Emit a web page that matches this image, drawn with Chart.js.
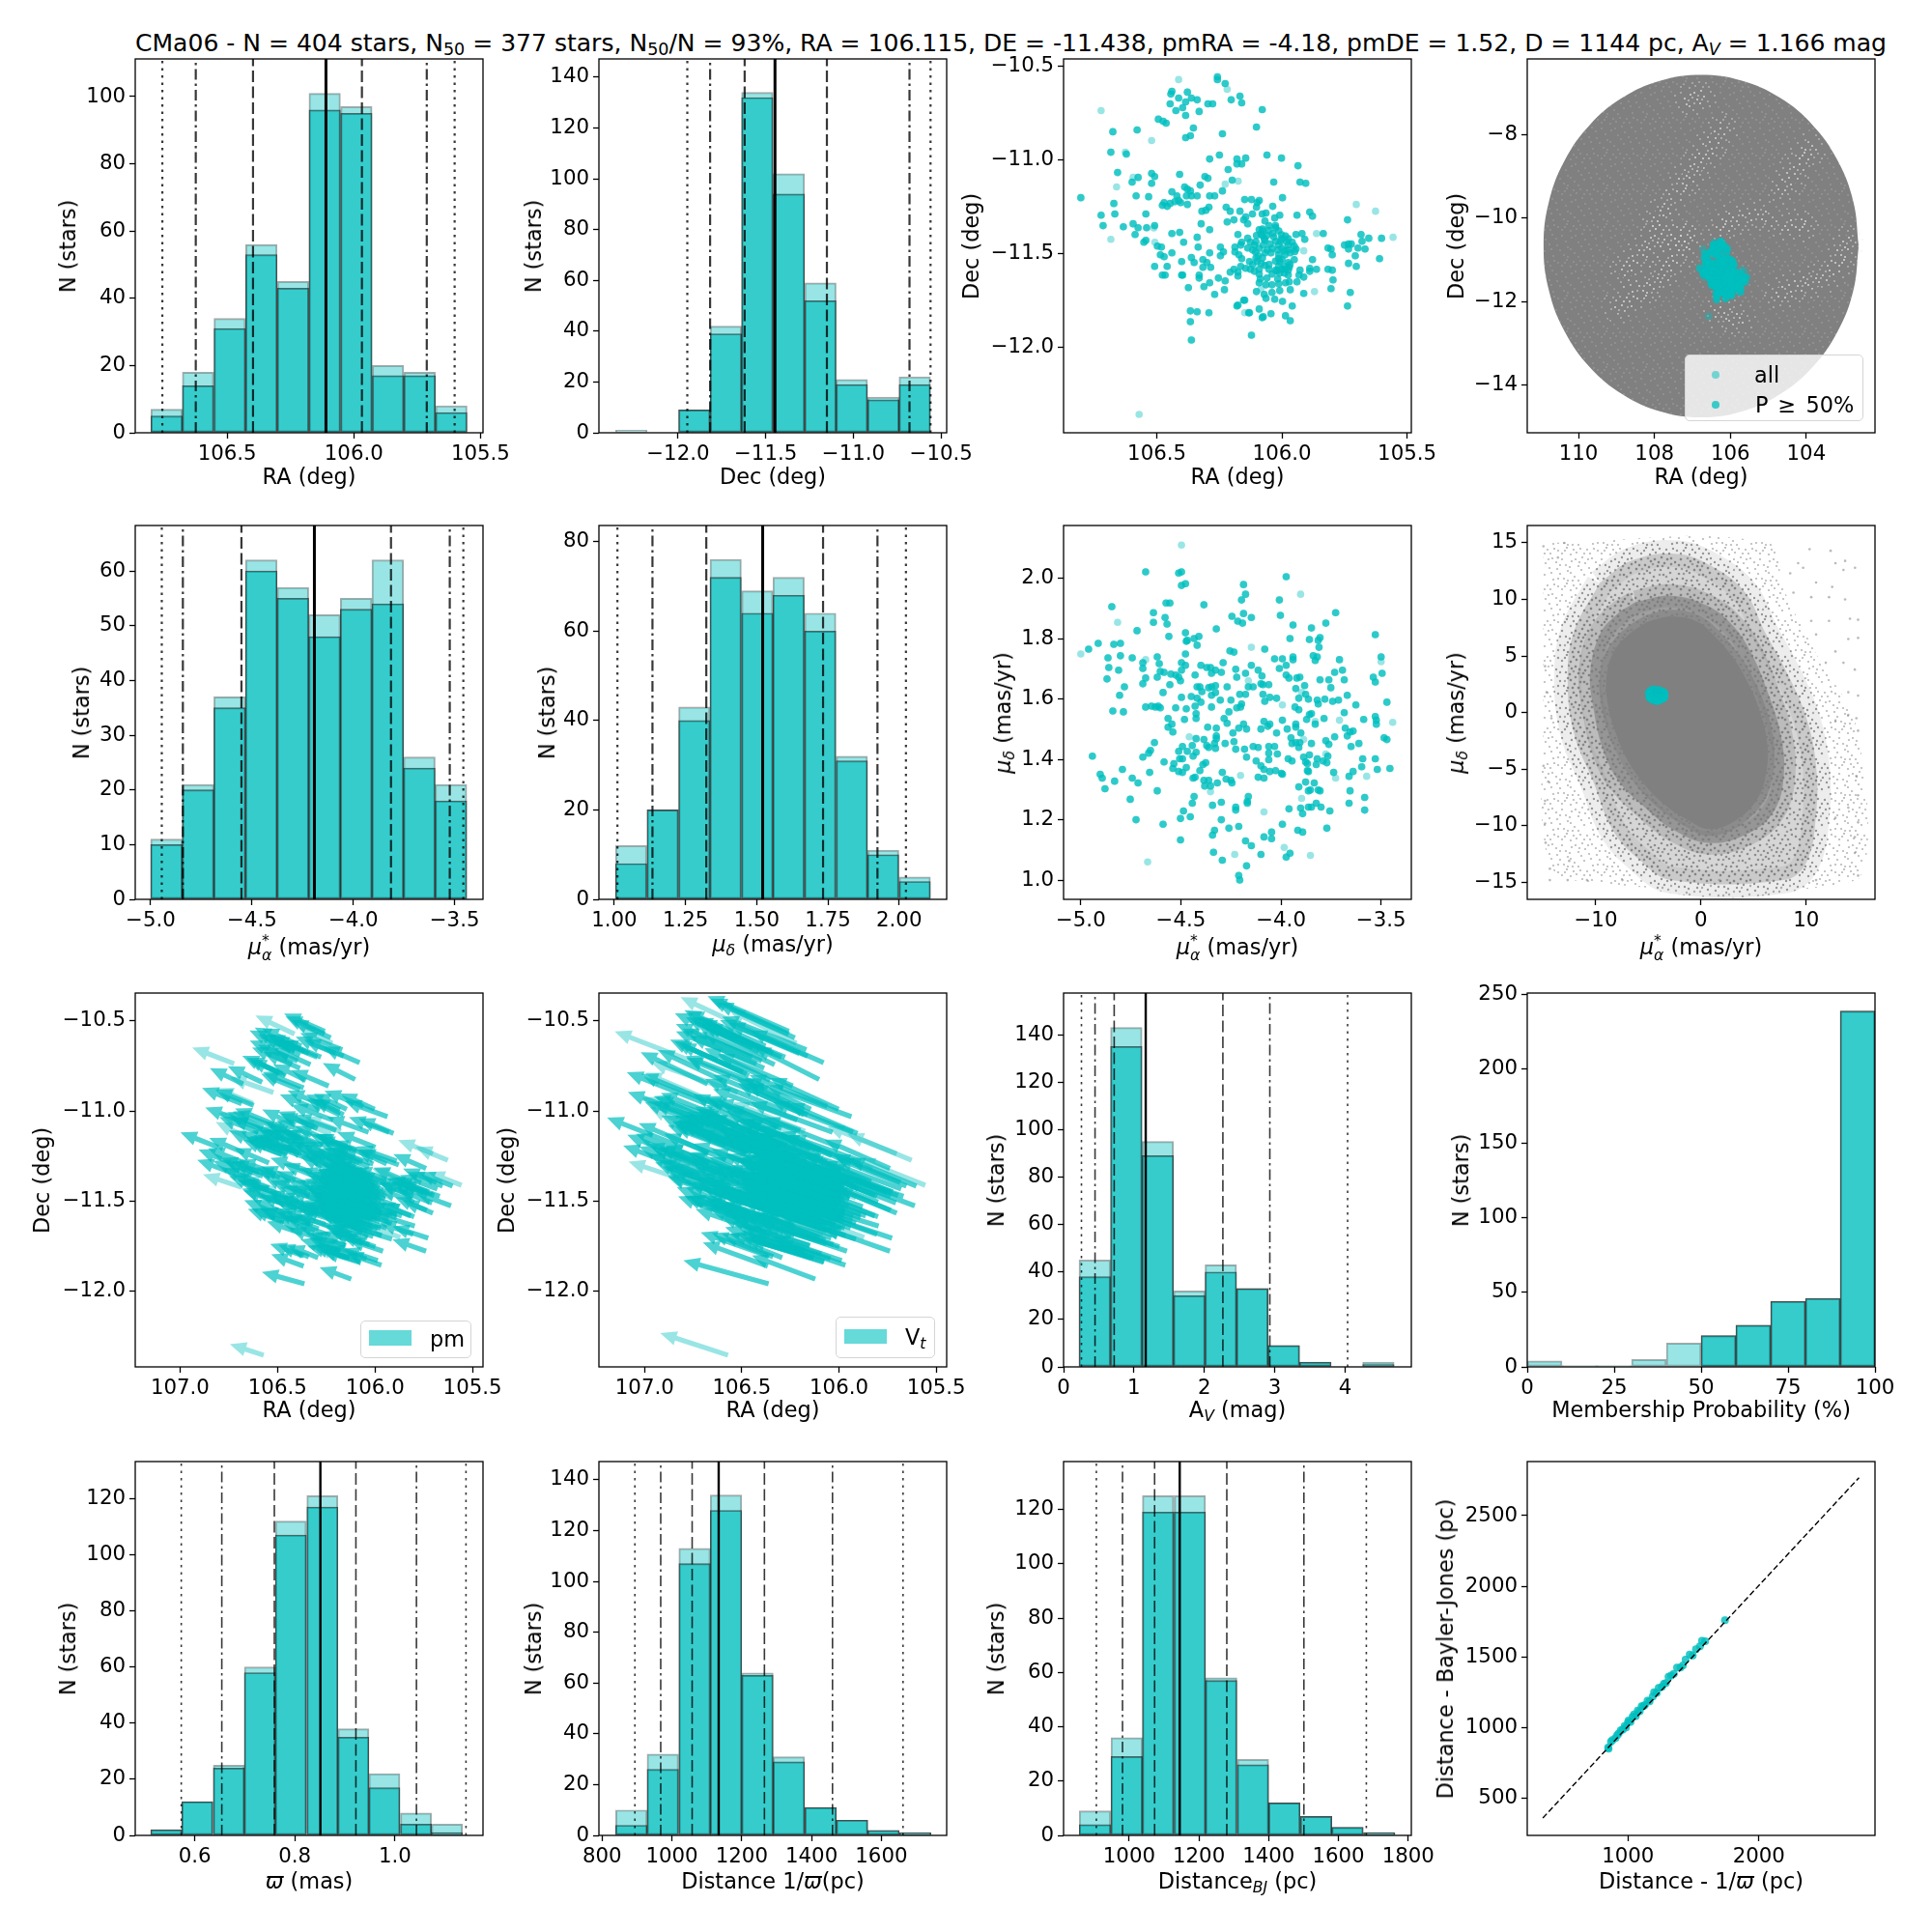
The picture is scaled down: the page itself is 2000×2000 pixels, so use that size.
<!DOCTYPE html>
<html>
<head>
<meta charset="utf-8">
<script src="https://cdn.jsdelivr.net/npm/chart.js@4"></script>
<style>
  body { margin: 0; background: #fff; font-family: 'DejaVu Sans', sans-serif; color: #000; }
  #page { position: relative; width: 2000px; height: 2000px; overflow: hidden; }
  canvas { position: absolute; }
  .lbl { position: absolute; font-size: 22.4px; white-space: nowrap; transform: translate(-50%, -50%); }
  .lbl.rot { transform: translate(-50%, -50%) rotate(-90deg); }
  #title { position: absolute; left: 140px; top: 44px; font-size: 25.05px; white-space: nowrap; transform: translateY(-50%); }
  sub { font-size: 70%; line-height: 0; vertical-align: -0.25em; }
  .ss { display: inline-flex; flex-direction: column; font-size: 70%; line-height: 15px; vertical-align: 9px; }
  .legend { position: absolute; background: rgba(255,255,255,.8); border: 1.3px solid #d5d5d5; border-radius: 5px; box-sizing: border-box; }
  .legend div, .legend span { position: absolute; }
  .legend span { font-size: 22.4px; white-space: nowrap; transform: translateY(-50%); }
</style>
</head>
<body>
<div id="page">
  <div id="title">CMa06 - N = 404 stars, N<sub>50</sub> = 377 stars, N<sub>50</sub>/N = 93%, RA = 106.115, DE = -11.438, pmRA = -4.18, pmDE = 1.52, D = 1144 pc, A<sub><i>V</i></sub> = 1.166 mag</div>
</div>
<script>
/*
    DATA
*/
const raCenters = [106.739, 106.615, 106.490, 106.365, 106.240, 106.115, 105.990, 105.865, 105.740, 105.615];
const raAll = [7, 18, 34, 56, 45, 101, 97, 20, 18, 8];
const raMem = [5, 14, 31, 53, 43, 96, 95, 17, 17, 6];
const raLines = [106.756, 105.602, 106.624, 105.712, 106.398, 105.968, 106.110];

const decCenters = [-12.266, -12.087, -11.907, -11.727, -11.548, -11.368, -11.188, -11.009, -10.829, -10.650];
const decAll = [1, 0, 9, 42, 134, 102, 59, 21, 14, 22];
const decMem = [0, 0, 9, 39, 132, 94, 52, 19, 13, 19];
const decLines = [-11.947, -10.56, -11.817, -10.68, -11.62, -11.151, -11.447];

const pmraCenters = [-4.922, -4.766, -4.610, -4.454, -4.298, -4.142, -3.986, -3.830, -3.674, -3.518];
const pmraAll = [11, 21, 37, 62, 57, 52, 55, 62, 26, 21];
const pmraMem = [10, 20, 35, 60, 55, 48, 53, 54, 24, 18];
const pmraLines = [-4.945, -3.457, -4.841, -3.524, -4.552, -3.814, -4.192];

const pmdeCenters = [1.059, 1.170, 1.281, 1.391, 1.502, 1.612, 1.723, 1.834, 1.944, 2.055];
const pmdeAll = [12, 20, 43, 76, 69, 72, 64, 32, 11, 5];
const pmdeMem = [8, 20, 40, 72, 64, 68, 60, 31, 10, 4];
const pmdeLines = [1.011, 2.024, 1.134, 1.924, 1.323, 1.733, 1.521];

const avCenters = [0.443, 0.891, 1.338, 1.786, 2.234, 2.681, 3.129, 3.577, 4.025, 4.472];
const avAll = [45, 143, 95, 32, 43, 33, 9, 2, 0, 2];
const avMem = [38, 135, 89, 30, 40, 33, 9, 2, 0, 1];
const avLines = [0.254, 4.035, 0.447, 2.93, 0.719, 2.263, 1.167];

const probCenters = [5, 15, 25, 35, 45, 55, 65, 75, 85, 95];
const probAll = [4, 1, 1, 5, 16, 21, 28, 44, 46, 239];
const probMem = [0, 0, 0, 0, 0, 21, 28, 44, 46, 239];

const plxCenters = [0.543, 0.605, 0.668, 0.730, 0.792, 0.855, 0.917, 0.979, 1.042, 1.104];
const plxAll = [2, 12, 25, 60, 112, 121, 38, 22, 8, 4];
const plxMem = [2, 12, 24, 58, 107, 117, 35, 17, 4, 1];
const plxLines = [0.573, 1.142, 0.654, 1.043, 0.759, 0.922, 0.851];

const distCenters = [884, 974, 1065, 1155, 1245, 1335, 1426, 1516, 1606, 1697];
const distAll = [10, 32, 113, 134, 64, 31, 11, 6, 2, 1];
const distMem = [4, 26, 107, 128, 63, 29, 11, 6, 2, 1];
const distLines = [894, 1662, 968, 1460, 1058, 1265, 1134];

const bjCenters = [902, 993, 1083, 1174, 1264, 1355, 1445, 1536, 1626, 1717];
const bjAll = [9, 36, 125, 125, 58, 28, 12, 7, 3, 1];
const bjMem = [4, 29, 119, 119, 57, 26, 12, 7, 3, 1];
const bjLines = [906, 1680, 981, 1501, 1073, 1280, 1145];

// stars below 50% membership
const paleRA = [106.413, 106.219, 106.723, 106.521, 106.626, 106.595, 106.661, 106.175, 106.227, 105.703, 105.626, 105.556, 105.862, 106.684, 106.508, 105.913, 106.512, 105.870, 106.149, 106.083, 106.571];
const paleDE = [-10.572, -10.624, -10.737, -10.897, -10.959, -11.093, -11.144, -11.113, -11.129, -11.237, -11.273, -11.412, -11.392, -11.423, -11.438, -11.484, -11.362, -11.701, -11.814, -11.687, -12.355];
const palePmRA = [-4.497, -3.902, -4.816, -5.000, -4.148, -4.676, -3.500, -4.163, -3.897, -3.993, -3.708, -3.829, -3.442, -4.458, -3.887, -3.776, -4.202, -3.727, -3.572, -4.352, -3.897, -4.085, -3.984, -4.231, -3.853, -4.666];
const palePmDE = [2.111, 1.948, 1.855, 1.750, 1.772, 1.731, 1.724, 1.661, 1.622, 1.581, 1.530, 1.526, 1.523, 1.475, 1.466, 1.418, 1.347, 1.338, 1.344, 1.293, 1.271, 1.226, 1.108, 1.085, 1.082, 1.060];

// stars with P >= 50%
const memRA = [106.258,106.258,106.227,106.440,106.444,106.378,106.413,106.362,106.339,106.385,106.168,106.203,106.161,106.447,106.296,106.277,106.397,106.424,106.331,106.385,106.079,106.494,106.475,106.463,106.102,106.354,106.579,106.676,106.238,106.366,106.385,106.684,106.622,106.250,106.289,106.060,106.002,106.180,106.145,106.180,106.161,105.936,106.215,106.657,106.521,106.409,106.509,106.575,106.308,106.296,106.599,106.521,106.199,106.033,105.928,105.905,106.327,106.389,106.378,106.366,106.440,106.238,106.583,106.533,106.420,106.382,106.362,106.339,106.289,106.269,105.998,106.804,106.149,106.122,106.091,106.413,106.471,106.672,106.447,106.428,106.405,106.378,106.478,106.459,106.099,106.102,106.037,106.223,106.292,106.304,106.320,106.207,106.168,106.668,106.723,106.544,106.118,106.079,106.064,105.940,106.009,105.889,105.878,106.145,106.029,106.192,105.738,106.219,106.153,106.137,106.068,106.323,106.715,106.634,106.595,106.575,106.541,106.509,106.052,106.025,106.289,106.091,106.075,106.013,106.440,106.409,106.587,106.176,106.102,106.079,106.060,106.037,106.002,105.986,105.944,105.920,105.835,106.339,106.137,105.909,105.653,105.602,105.684,105.680,106.544,106.552,106.393,106.161,106.126,106.068,106.025,106.006,105.959,105.750,105.734,105.723,105.696,105.668,106.498,106.482,106.335,106.246,106.188,106.165,106.137,106.110,106.075,106.048,106.013,105.975,105.951,105.816,105.804,105.734,106.440,106.486,106.471,106.289,106.246,106.234,106.188,106.106,106.068,106.044,106.017,105.990,105.944,105.967,105.799,105.707,105.610,106.362,106.172,106.161,106.095,106.013,105.951,105.878,106.401,106.351,106.316,106.300,106.130,106.099,106.083,106.009,105.975,105.734,106.509,106.459,106.316,106.285,106.165,106.068,106.013,105.990,105.971,105.703,106.145,106.126,106.052,106.025,106.002,105.975,105.928,105.889,105.862,105.816,105.799,106.207,106.192,106.176,106.110,106.009,105.990,105.889,106.331,106.331,106.478,106.467,106.401,106.397,106.176,106.091,105.932,105.913,106.254,106.087,106.060,106.017,105.975,106.227,106.289,106.091,105.986,105.971,105.940,105.796,106.374,106.312,106.230,106.064,106.040,106.013,106.102,106.040,106.009,105.967,105.804,106.269,106.071,106.064,106.029,105.913,105.727,106.176,106.180,106.153,106.149,105.998,105.959,105.738,106.366,106.339,106.292,106.133,106.130,106.091,106.044,106.075,106.079,105.986,105.967,106.366,106.122,106.362,106.084,106.071,106.052,106.033,106.000,105.981,105.975,105.988,106.000,106.026,106.052,106.078,106.104,106.117,106.091,106.039,106.020,105.988,105.968,105.949,106.039,106.059,106.091,106.117,106.104,106.078,106.026,105.975,106.000,106.013];
const memDE = [-10.557,-10.572,-10.593,-10.634,-10.649,-10.639,-10.670,-10.670,-10.680,-10.691,-10.660,-10.680,-10.696,-10.701,-10.701,-10.701,-10.722,-10.737,-10.742,-10.763,-10.732,-10.783,-10.794,-10.804,-10.825,-10.830,-10.840,-10.850,-10.861,-10.871,-10.881,-10.959,-10.969,-10.974,-10.995,-10.974,-10.990,-10.995,-10.990,-11.021,-11.021,-11.031,-11.051,-11.067,-11.072,-11.077,-11.088,-11.093,-11.088,-11.098,-11.118,-11.124,-11.108,-11.118,-11.118,-11.124,-11.134,-11.144,-11.155,-11.165,-11.170,-11.165,-11.191,-11.196,-11.191,-11.191,-11.191,-11.191,-11.191,-11.191,-11.201,-11.201,-11.211,-11.211,-11.216,-11.216,-11.227,-11.232,-11.232,-11.222,-11.227,-11.237,-11.242,-11.247,-11.227,-11.252,-11.247,-11.252,-11.252,-11.268,-11.273,-11.273,-11.273,-11.288,-11.294,-11.288,-11.288,-11.288,-11.283,-11.294,-11.294,-11.278,-11.299,-11.304,-11.309,-11.319,-11.319,-11.330,-11.319,-11.340,-11.325,-11.340,-11.350,-11.356,-11.340,-11.361,-11.361,-11.350,-11.350,-11.361,-11.371,-11.371,-11.378,-11.378,-11.392,-11.386,-11.397,-11.397,-11.402,-11.402,-11.402,-11.392,-11.399,-11.405,-11.397,-11.392,-11.392,-11.412,-11.417,-11.423,-11.417,-11.417,-11.397,-11.433,-11.428,-11.438,-11.438,-11.438,-11.438,-11.428,-11.433,-11.433,-11.438,-11.453,-11.448,-11.448,-11.469,-11.474,-11.459,-11.464,-11.464,-11.464,-11.464,-11.453,-11.469,-11.453,-11.453,-11.448,-11.453,-11.453,-11.459,-11.469,-11.474,-11.474,-11.495,-11.505,-11.515,-11.495,-11.510,-11.490,-11.490,-11.490,-11.495,-11.495,-11.479,-11.484,-11.474,-11.495,-11.505,-11.510,-11.526,-11.520,-11.505,-11.526,-11.510,-11.526,-11.531,-11.531,-11.541,-11.546,-11.531,-11.546,-11.541,-11.541,-11.551,-11.541,-11.546,-11.551,-11.567,-11.567,-11.572,-11.572,-11.567,-11.562,-11.567,-11.567,-11.572,-11.567,-11.577,-11.582,-11.582,-11.587,-11.582,-11.587,-11.587,-11.577,-11.582,-11.582,-11.587,-11.598,-11.582,-11.598,-11.593,-11.603,-11.603,-11.593,-11.613,-11.629,-11.613,-11.613,-11.613,-11.613,-11.618,-11.608,-11.613,-11.624,-11.629,-11.634,-11.629,-11.634,-11.613,-11.644,-11.654,-11.654,-11.654,-11.649,-11.649,-11.639,-11.680,-11.675,-11.691,-11.665,-11.665,-11.660,-11.701,-11.706,-11.696,-11.691,-11.685,-11.716,-11.716,-11.737,-11.742,-11.711,-11.706,-11.773,-11.778,-11.747,-11.747,-11.753,-11.778,-11.778,-11.804,-11.809,-11.814,-11.814,-11.814,-11.794,-11.819,-11.835,-11.840,-11.830,-11.856,-11.861,-11.933,-11.959,-11.393,-11.419,-11.376,-11.410,-11.419,-11.436,-11.479,-11.505,-11.531,-11.539,-11.557,-11.522,-11.522,-11.557,-11.582,-11.608,-11.591,-11.582,-11.557,-11.488,-11.471,-11.479,-11.471,-11.479,-11.436,-11.368,-11.350,-11.419,-11.471,-11.505];
const memPmRA = [-4.676,-4.511,-4.497,-3.974,-4.477,-4.497,-4.187,-4.177,-4.197,-4.008,-4.845,-4.574,-4.555,-4.385,-4.637,-4.579,-4.569,-4.637,-4.187,-4.245,-4.216,-4.192,-4.148,-4.003,-3.727,-3.776,-3.940,-3.848,-4.323,-4.719,-4.477,-4.560,-4.410,-4.434,-4.468,-4.473,-3.955,-3.858,-3.814,-3.805,-3.529,-4.913,-4.835,-4.802,-4.419,-3.810,-4.961,-4.081,-4.255,-4.235,-4.477,-4.864,-4.802,-4.743,-4.618,-4.032,-3.993,-3.940,-3.940,-3.839,-3.819,-3.829,-3.708,-3.500,-4.690,-4.608,-4.497,-4.477,-4.289,-4.400,-4.371,-4.352,-4.148,-3.974,-4.860,-4.690,-4.226,-4.008,-4.114,-4.811,-4.603,-4.584,-4.497,-4.327,-4.347,-4.298,-4.177,-3.732,-3.693,-3.495,-4.550,-4.526,-4.429,-4.221,-4.095,-3.974,-3.960,-3.921,-3.906,-3.539,-4.869,-4.676,-4.618,-4.511,-4.502,-3.805,-3.761,-3.684,-3.529,-4.690,-4.555,-4.782,-4.419,-4.405,-4.361,-4.347,-4.327,-4.269,-4.163,-4.139,-4.100,-4.090,-4.061,-3.882,-3.751,-3.926,-4.395,-4.589,-4.327,-4.806,-4.448,-4.497,-4.347,-4.206,-4.177,-4.090,-3.877,-3.669,-4.419,-4.056,-4.022,-3.911,-3.863,-4.303,-4.250,-4.400,-4.081,-3.819,-3.814,-3.781,-3.742,-3.713,-3.471,-4.197,-3.626,-4.676,-4.647,-4.627,-4.613,-4.603,-4.526,-4.473,-4.429,-4.347,-4.221,-4.202,-3.930,-3.911,-4.840,-4.787,-4.260,-3.684,-3.848,-3.858,-4.424,-4.424,-4.564,-4.482,-4.284,-3.872,-3.785,-3.587,-3.529,-3.524,-3.524,-4.545,-4.269,-4.085,-4.056,-3.993,-4.066,-4.187,-3.926,-3.926,-3.829,-4.564,-4.366,-4.323,-4.211,-4.172,-4.100,-3.969,-3.679,-4.540,-4.240,-4.022,-3.901,-3.655,-3.640,-3.669,-4.323,-4.323,-4.424,-4.385,-3.950,-3.732,-3.485,-3.471,-3.776,-4.632,-4.279,-4.235,-4.332,-3.945,-3.926,-3.906,-3.848,-3.761,-3.611,-4.492,-4.443,-4.371,-4.361,-4.327,-4.139,-4.114,-4.061,-4.032,-3.911,-3.650,-4.226,-4.182,-4.511,-4.468,-4.424,-4.061,-4.652,-4.661,-4.690,-4.439,-4.172,-4.018,-3.887,-3.858,-3.766,-4.942,-4.506,-4.492,-4.061,-3.964,-3.945,-3.819,-3.790,-3.592,-3.529,-4.584,-4.124,-3.877,-3.868,-3.824,-3.771,-4.535,-4.376,-4.390,-4.100,-3.597,-4.540,-4.473,-4.085,-4.056,-4.027,-3.868,-3.863,-3.519,-3.456,-4.792,-4.405,-4.511,-4.492,-4.656,-4.293,-3.998,-3.993,-3.737,-3.640,-4.903,-4.893,-4.743,-4.439,-4.429,-4.114,-4.085,-3.660,-4.831,-4.714,-4.385,-4.361,-4.274,-4.250,-4.318,-4.245,-3.877,-3.834,-4.381,-4.352,-3.911,-4.879,-4.618,-3.863,-3.853,-3.814,-3.805,-3.655,-4.434,-4.163,-3.582,-4.753,-4.443,-4.298,-4.168,-4.168,-3.824,-3.660,-4.342,-4.226,-4.226,-3.960,-3.902,-3.863,-3.848,-3.800,-4.487,-3.756,-3.582,-3.892,-4.453,-4.502,-4.724,-4.298,-4.589,-4.211,-4.260,-3.993,-3.771,-3.916,-3.892,-4.332,-4.342,-4.047,-4.085,-4.047,-4.502,-4.177,-4.148,-4.337,-4.100,-3.955,-3.974,-4.293,-4.172,-4.211,-4.206];
const memPmDE = [2.022,2.018,2.022,2.006,1.983,1.977,1.980,1.948,1.929,1.929,1.907,1.919,1.919,1.913,1.887,1.871,1.849,1.855,1.884,1.875,1.859,1.852,1.871,1.878,1.887,1.852,1.846,1.836,1.833,1.827,1.820,1.808,1.808,1.801,1.795,1.792,1.801,1.798,1.795,1.804,1.814,1.785,1.782,1.785,1.779,1.772,1.766,1.766,1.760,1.756,1.750,1.737,1.744,1.737,1.740,1.734,1.734,1.740,1.731,1.744,1.740,1.728,1.731,1.740,1.721,1.718,1.721,1.712,1.721,1.712,1.705,1.705,1.712,1.712,1.705,1.702,1.699,1.702,1.696,1.696,1.692,1.689,1.696,1.696,1.686,1.689,1.686,1.689,1.696,1.686,1.683,1.680,1.680,1.673,1.677,1.680,1.670,1.670,1.673,1.673,1.667,1.670,1.673,1.673,1.661,1.664,1.664,1.664,1.657,1.651,1.648,1.641,1.641,1.641,1.638,1.641,1.645,1.641,1.641,1.641,1.651,1.648,1.648,1.645,1.638,1.635,1.625,1.622,1.622,1.613,1.609,1.606,1.613,1.616,1.616,1.616,1.616,1.613,1.603,1.606,1.603,1.603,1.600,1.597,1.597,1.590,1.593,1.597,1.584,1.600,1.593,1.597,1.590,1.584,1.581,1.574,1.577,1.574,1.577,1.571,1.571,1.568,1.577,1.574,1.571,1.574,1.574,1.565,1.561,1.558,1.558,1.555,1.552,1.549,1.552,1.536,1.536,1.533,1.536,1.533,1.536,1.533,1.542,1.530,1.517,1.517,1.520,1.526,1.517,1.530,1.510,1.517,1.517,1.507,1.517,1.507,1.507,1.504,1.504,1.501,1.501,1.501,1.504,1.491,1.488,1.488,1.488,1.491,1.494,1.478,1.478,1.469,1.469,1.466,1.472,1.475,1.472,1.466,1.462,1.456,1.453,1.459,1.453,1.453,1.456,1.456,1.453,1.450,1.453,1.443,1.446,1.446,1.440,1.437,1.443,1.440,1.443,1.443,1.440,1.443,1.434,1.434,1.427,1.427,1.424,1.421,1.430,1.421,1.408,1.411,1.408,1.418,1.408,1.415,1.411,1.411,1.402,1.402,1.399,1.402,1.395,1.402,1.395,1.402,1.402,1.392,1.395,1.392,1.386,1.383,1.389,1.386,1.389,1.383,1.379,1.376,1.370,1.373,1.367,1.360,1.363,1.363,1.360,1.367,1.370,1.367,1.363,1.360,1.357,1.357,1.357,1.354,1.351,1.357,1.360,1.351,1.338,1.338,1.338,1.341,1.341,1.338,1.344,1.328,1.322,1.331,1.331,1.335,1.331,1.322,1.322,1.325,1.322,1.312,1.312,1.309,1.303,1.296,1.296,1.299,1.299,1.296,1.296,1.277,1.277,1.274,1.268,1.255,1.258,1.261,1.255,1.255,1.255,1.248,1.242,1.232,1.236,1.239,1.242,1.242,1.242,1.229,1.229,1.232,1.220,1.210,1.204,1.200,1.200,1.185,1.178,1.172,1.185,1.172,1.165,1.159,1.165,1.149,1.159,1.143,1.137,1.133,1.130,1.114,1.092,1.085,1.089,1.076,1.066,1.047,1.015,1.000];

// distance against distance
const dist1 = [849, 852, 870, 882, 905, 918, 929, 945, 960, 975, 985, 1000, 1005, 1020, 1035, 1047, 1060, 1075, 1090, 1105, 1118, 1130, 1150, 1165, 1189, 1200, 1220, 1235, 1259, 1275, 1290, 1310, 1330, 1350, 1375, 1401, 1420, 1440, 1472, 1495, 1520, 1550, 1566, 1590, 1741];
const distBJ = [859, 850, 900, 911, 925, 945, 957, 980, 985, 1010, 1000, 1036, 1050, 1040, 1075, 1093, 1080, 1120, 1115, 1150, 1150, 1160, 1190, 1185, 1219, 1250, 1245, 1280, 1288, 1310, 1315, 1360, 1368, 1380, 1425, 1425, 1440, 1480, 1516, 1510, 1555, 1575, 1614, 1610, 1760];
const oneToOneX = [350, 2765];
const oneToOneY = [359, 2769];

const fieldDiskRA = [102.62, 102.76, 103.18, 103.84, 104.70, 105.70, 106.77, 107.84, 108.84, 109.70, 110.36, 110.78, 110.92, 110.78, 110.36, 109.70, 108.84, 107.84, 106.77, 105.70, 104.70, 103.84, 103.18, 102.76, 102.62];
const fieldDiskDE = [-10.67, -9.61, -8.61, -7.76, -7.11, -6.70, -6.56, -6.70, -7.11, -7.76, -8.61, -9.61, -10.67, -11.73, -12.73, -13.58, -14.23, -14.64, -14.78, -14.64, -14.23, -13.58, -12.73, -11.73, -10.67];
const streaks = [
  [[107.31, 106.97, 106.63, 106.20], [-9.22, -8.87, -8.40, -7.86]],
  [[108.92, 108.41, 107.82, 107.39, 107.14], [-12.12, -11.81, -11.43, -10.88, -10.50]],
  [[108.75, 108.41, 107.90, 107.31], [-11.27, -10.88, -10.57, -10.46]],
  [[107.99, 107.65], [-10.11, -9.72]],
  [[106.20, 105.95, 105.18], [-10.26, -10.03, -9.95]],
  [[104.59, 104.25, 103.91], [-9.26, -8.79, -8.33]],
  [[104.50, 104.08], [-10.19, -10.19]],
  [[104.67, 104.08, 103.40, 102.89], [-11.81, -11.58, -11.35, -10.57]],
  [[106.29, 105.78], [-12.28, -12.43]],
  [[107.05, 106.80], [-7.16, -7.09]]
];
const fieldOuterX = [-14.98, 6.34, 7.87, 10.94, 14.93, 14.93, -12.53, -14.83, -14.98, -14.98];
const fieldOuterY = [15.01, 15.01, 10.9, 5.22, -1.87, -14.79, -14.79, -11.81, 0, 15.01];
const fieldMidX = [-9.62, -6.55, -2.25, 1.12, 4.19, 6.03, 8.18, 10.02, 10.94, 10.94, 10.02, 7.87, -2.87, -5.93, -8.39, -10.23, -12.07, -12.68, -12.07, -9.62];
const fieldMidY = [11.46, 13.45, 14.02, 12.88, 10.61, 7.21, 3.52, -0.46, -4.71, -8.97, -13.23, -14.79, -14.79, -12.94, -10.39, -6.13, -1.87, 2.95, 7.21, 11.46];
const fieldInnerX = [-6.24, -2.87, 0.51, 2.96, 4.80, 6.34, 7.56, 7.87, 6.95, 4.50, 0.82, -2.56, -5.32, -7.77, -9.31, -10.23, -10.54, -9.62, -8.08, -6.24];
const fieldInnerY = [9.76, 10.33, 9.48, 7.77, 5.22, 1.81, -1.87, -5.56, -8.69, -10.67, -11.52, -10.39, -8.40, -6.13, -3.29, 0.40, 3.52, 6.92, 8.62, 9.76];
const fieldCoreX = [-5.01, -2.87, -0.41, 1.43, 3.2, 4.6, 5.6, 6.3, 6.2, 5.4, 3.4, 0.82, -1.33, -3.48, -5.32, -6.85, -8.08, -8.85, -9.00, -8.39, -6.85, -5.01];
const fieldCoreY = [8.06, 8.48, 8.06, 6.64, 4.65, 2.38, 0.11, -2.73, -5.28, -7.55, -9.45, -10.3, -9.45, -8.12, -6.42, -4.43, -1.87, 0.68, 2.95, 5.22, 6.92, 8.06];
const fieldSparseX = [10.32, 12.32, 14.64, 13.54, 12.78, 13.70, 9.71, 9.23, 8.48, 10.94, 12.47, 8.79, 10.48, 12.17, 13.70, 14.93, 14.16, 12.17, 10.48, 10.94, 14.0, 14.93, 12.78, 13.54, 11.86, 14.62, 14.0, 14.93, 14.77, 14.93, 14.0, 12.78, 14.77, 14.93, 14.0, 14.93, 14.62, 14.62, 14.93, 12.78, -12.68, -14.37, -14.37, -14.77, -12.53, -14.83, -14.83, -14.98, -14.68, -14.83, -14.98, -12.99, -13.6, -10.84, -7.47, 1.73, 6.34, 10.94, -14.22, -14.52];
const fieldSparseY = [14.44, 14.3, 12.8, 12.6, 13.2, 13.4, 12.8, 13.2, 12.3, 11.5, 11.1, 10.6, 10.2, 10.2, 10.0, 8.2, 8.3, 8.1, 8.1, 6.9, 6.5, 6.6, 5.4, 4.4, 4.4, 3.8, 1.8, 1.5, -0.5, -1.6, -0.2, -0.7, -5.6, -7.3, -8.4, -9.7, -11.0, -12.4, -14.4, -9.3, -14.8, -14.8, -13.8, -11.5, -13.1, -9.8, -7.8, -4.7, 1.8, 4.1, 14.7, 15.0, 13.7, -14.8, -14.8, -14.8, -14.8, -14.8, -0.5, -6.1];

/*
    LAYOUT Y ESTILOS
*/
const page = document.getElementById('page');
const TICK_FONT = { family: "'DejaVu Sans'", size: 21.3 };
const COL_X = [140, 620, 1101, 1581];
const ROW_Y = [61, 544, 1028, 1513];
const PLOT_W = 360, PLOT_H = 387;
const M_LEFT = 135, M_RIGHT = 35, M_TOP = 15, M_BOTTOM = 45;
const TEAL = (a) => `rgba(0,191,191,${a})`;
const GRAY = (a) => `rgba(128,128,128,${a})`;
const LIGHT = (a) => `rgba(225,225,225,${a})`;

const fmt = (v, dec) => v.toFixed(dec).replace('-', '\u2212');
const pts = (xs, ys) => xs.map((x, i) => ({ x, y: ys[i] }));
const seq = (from, to, step) => {
  const out = [];
  for (let v = from; step > 0 ? v <= to + 1e-9 : v >= to - 1e-9; v += step) out.push(+v.toFixed(4));
  return out;
};

// small tile of dots used as a stipple fill for the dense clouds
const TILE_DOTS = [[3,4],[12,1],[22,6],[33,3],[38,12],[7,13],[17,15],[28,11],[2,23],[13,25],[24,20],[35,22],[9,33],[20,31],[30,29],[39,34],
  [7,7],[16,8],[26,2],[36,7],[1,16],[11,19],[21,13],[31,17],[5,28],[16,27],[27,24],[37,27],[13,35],[24,35],
  [10,4],[19,3],[30,7],[40,2],[5,19],[15,21],[25,16],[34,13],[3,33],[18,35],[29,20],[38,18],[10,28],[21,24],[33,31],[8,23],[19,18],[26,29],[35,36],[14,12]];
const stipple = (bg, dot, count, r = 1) => {
  const c = document.createElement('canvas');
  c.width = 41; c.height = 37;
  const t = c.getContext('2d');
  if (bg) { t.fillStyle = bg; t.fillRect(0, 0, 41, 37); }
  t.fillStyle = dot;
  TILE_DOTS.slice(0, count).forEach(([x, y]) => { t.beginPath(); t.arc(x, y, r, 0, Math.PI * 2); t.fill(); });
  return t.createPattern(c, 'repeat');
};

const frame = {
  id: 'frame',
  afterDraw(chart) {
    const { ctx, chartArea: a } = chart;
    ctx.save();
    ctx.strokeStyle = '#000';
    ctx.lineWidth = 1.3;
    ctx.strokeRect(a.left, a.top, a.right - a.left, a.bottom - a.top);
    ctx.restore();
  }
};

const quiver = {
  id: 'quiver',
  afterDatasetsDraw(chart, args, opts) {
    if (!opts.gain) return;
    const { ctx, chartArea: a, scales } = chart;
    ctx.save();
    ctx.beginPath();
    ctx.rect(a.left, a.top, a.right - a.left, a.bottom - a.top);
    ctx.clip();
    chart.data.datasets.forEach((ds) => {
      if (!ds.arrowColor) return;
      ctx.fillStyle = ds.arrowColor;
      ds.data.forEach((p) => {
        const L = Math.hypot(p.u, p.v) * opts.gain;
        const h = 17, w = 2.6, hw = 7.5;
        ctx.save();
        ctx.translate(scales.x.getPixelForValue(p.x), scales.y.getPixelForValue(p.y));
        ctx.rotate(Math.atan2(-p.v, p.u));
        ctx.beginPath();
        ctx.moveTo(0, -w);
        ctx.lineTo(L - h, -w);
        ctx.lineTo(L - h, -hw);
        ctx.lineTo(L, 0);
        ctx.lineTo(L - h, hw);
        ctx.lineTo(L - h, w);
        ctx.lineTo(0, w);
        ctx.closePath();
        ctx.fill();
        ctx.restore();
      });
    });
    ctx.restore();
  }
};

/*
    FUNCIONES
*/
const addLabel = (html, x, y, rot) => {
  const el = document.createElement('div');
  el.className = 'lbl' + (rot ? ' rot' : '');
  el.style.left = x + 'px';
  el.style.top = y + 'px';
  el.innerHTML = html;
  page.appendChild(el);
};

const drawPanel = (p) => {
  const cv = document.createElement('canvas');
  const x0 = COL_X[p.col] - M_LEFT, y0 = ROW_Y[p.row] - M_TOP;
  cv.width = M_LEFT + PLOT_W + M_RIGHT;
  cv.height = M_TOP + PLOT_H + M_BOTTOM;
  cv.style.left = x0 + 'px';
  cv.style.top = y0 + 'px';
  page.appendChild(cv);

  // first listed goes underneath
  const n = p.datasets.length;
  p.datasets.forEach((ds, i) => { ds.order = n - i; });

  const axis = (lim, ticks, dec, reverse, isX) => ({
    type: 'linear',
    min: lim[0],
    max: lim[1],
    reverse: !!reverse,
    offset: false,
    border: { display: false },
    grid: { drawOnChartArea: false, drawTicks: true, offset: false, tickLength: 6, tickColor: '#000', tickWidth: 1.3 },
    ticks: {
      autoSkip: false, maxRotation: 0, minRotation: 0, padding: 4, color: '#000', font: TICK_FONT,
      callback: (v) => fmt(v, dec)
    },
    afterBuildTicks: (s) => { s.ticks = ticks.map((value) => ({ value })); },
    afterFit: (s) => {
      if (isX) { s.height = M_BOTTOM; s.paddingLeft = 0; s.paddingRight = 0; }
      else { s.width = M_LEFT; s.paddingTop = 0; s.paddingBottom = 0; }
    }
  });

  new Chart(cv.getContext('2d'), {
    type: 'bar',
    data: { datasets: p.datasets },
    plugins: [frame, quiver],
    options: {
      responsive: false,
      animation: false,
      devicePixelRatio: 1,
      events: [],
      layout: { padding: { top: M_TOP, right: M_RIGHT, left: 0, bottom: 0 } },
      plugins: { legend: { display: false }, tooltip: { enabled: false }, title: { display: false }, quiver: { gain: p.gain || 0 } },
      scales: {
        x: axis(p.xlim, p.xticks, p.xdec, p.reverse, true),
        y: axis(p.ylim, p.yticks, p.ydec || 0, false, false)
      }
    }
  });

  const cx = COL_X[p.col] + PLOT_W / 2, cy = ROW_Y[p.row] + PLOT_H / 2;
  addLabel(p.xlabel, cx, ROW_Y[p.row] + PLOT_H + (p.xlabelGap || 45));
  addLabel(p.ylabel, p.ylabelX, cy, true);
};

const bars = (centers, counts, alpha) => ({
  type: 'bar',
  data: pts(centers, counts),
  grouped: false,
  barPercentage: 1,
  categoryPercentage: 1,
  backgroundColor: TEAL(alpha),
  borderColor: `rgba(0,0,0,${alpha * 0.85})`,
  borderWidth: 1.3,
  borderSkipped: false
});

const line = (xs, ys, style) => Object.assign({
  type: 'scatter', showLine: true, data: pts(xs, ys), pointRadius: 0, fill: false, borderColor: '#000', borderWidth: 1.5
}, style);

const dots = (xs, ys, color, r = 3.8) => ({
  type: 'scatter', data: pts(xs, ys), backgroundColor: color, borderWidth: 0, pointRadius: r
});

const shape = (xs, ys, fill, edge = 'transparent', edgeW = 0) => line(xs, ys, {
  fill: 'shape', tension: 0.4, backgroundColor: fill, borderWidth: edgeW, borderColor: edge, borderJoinStyle: 'round'
});

const percentiles = (v, top, lw) => {
  const dark = 'rgba(0,0,0,.78)';
  return [
    [0, 1, { borderDash: [2.5, 5], borderColor: dark, borderWidth: lw }],
    [2, 3, { borderDash: [11, 4, 2.5, 4], borderColor: dark, borderWidth: lw }],
    [4, 5, { borderDash: [12, 4.5], borderColor: dark, borderWidth: lw }]
  ].flatMap(([a, b, st]) => [line([v[a], v[a]], [0, top], st), line([v[b], v[b]], [0, top], st)])
    .concat([line([v[6], v[6]], [0, top], { borderColor: '#000', borderWidth: lw + 0.8 })]);
};

const hist = (centers, all, mem, lines, top, lw) => [bars(centers, all, 0.4), bars(centers, mem, 0.65)].concat(lines ? percentiles(lines, top, lw) : []);

const arrows = (xs, ys, us, vs, color) => ({
  type: 'scatter',
  data: xs.map((x, i) => ({ x, y: ys[i], u: us[i % us.length], v: vs[i % vs.length] })),
  pointRadius: 0,
  arrowColor: color
});

const starLayers = (xp, yp, xm, ym) => [dots(xp, yp, TEAL(0.4)), dots(xm, ym, TEAL(0.4)), dots(xm, ym, TEAL(0.7))];

const MU_A = '<i>μ</i><span class="ss"><span>*</span><span><i>α</i></span></span> (mas/yr)';
const MU_D = '<i>μ</i><sub><i>δ</i></sub> (mas/yr)';
const N_STARS = 'N (stars)';
const NEG_DEC = seq(-10.5, -12, -0.5);
const RA_TICKS = [106.5, 106, 105.5];
const RA_Q_TICKS = [107, 106.5, 106, 105.5];

/*
    PANELES
*/
[
  { col: 0, row: 0, xlim: [105.49, 106.863], ylim: [0, 111.2], reverse: true, xticks: RA_TICKS, xdec: 1, yticks: seq(0, 100, 20),
    xlabel: 'RA (deg)', ylabel: N_STARS, ylabelX: 70, datasets: hist(raCenters, raAll, raMem, raLines, 111.2, 2.2) },
  { col: 1, row: 0, xlim: [-12.451, -10.468], ylim: [0, 147.2], xticks: [-12, -11.5, -11, -10.5], xdec: 1, yticks: seq(0, 140, 20),
    xlabel: 'Dec (deg)', ylabel: N_STARS, ylabelX: 552, datasets: hist(decCenters, decAll, decMem, decLines, 147.2, 2.2) },
  { col: 2, row: 0, xlim: [105.483, 106.873], ylim: [-12.453, -10.462], reverse: true, xticks: RA_TICKS, xdec: 1, yticks: NEG_DEC, ydec: 1,
    xlabel: 'RA (deg)', ylabel: 'Dec (deg)', ylabelX: 1005, datasets: starLayers(paleRA, paleDE, memRA, memDE) },
  { col: 3, row: 0, xlim: [102.19, 111.35], ylim: [-15.15, -6.18], reverse: true, xticks: [110, 108, 106, 104], xdec: 0, yticks: [-8, -10, -12, -14],
    xlabel: 'RA (deg)', ylabel: 'Dec (deg)', ylabelX: 1507, datasets: [
      shape(fieldDiskRA, fieldDiskDE, stipple('#808080', LIGHT(0.22), 34, 1))
    ].concat(streaks.flatMap(([xs, ys]) => [
      line(xs, ys, { borderColor: stipple(null, LIGHT(0.35), 34, 1), borderWidth: 36, borderCapStyle: 'round', borderJoinStyle: 'round', tension: 0.3 }),
      line(xs, ys, { borderColor: stipple(null, LIGHT(0.6), 50, 1), borderWidth: 15, borderCapStyle: 'round', borderJoinStyle: 'round', tension: 0.3 })
    ])).concat(starLayers(paleRA, paleDE, memRA, memDE)) },

  { col: 0, row: 1, xlim: [-5.076, -3.36], ylim: [0, 68.3], xticks: [-5, -4.5, -4, -3.5], xdec: 1, yticks: seq(0, 60, 10),
    xlabel: MU_A, xlabelGap: 50, ylabel: N_STARS, ylabelX: 84, datasets: hist(pmraCenters, pmraAll, pmraMem, pmraLines, 68.3, 2.2) },
  { col: 1, row: 1, xlim: [0.946, 2.167], ylim: [0, 83.6], xticks: [1, 1.25, 1.5, 1.75, 2], xdec: 2, yticks: seq(0, 80, 20),
    xlabel: MU_D, xlabelGap: 46, ylabel: N_STARS, ylabelX: 566, datasets: hist(pmdeCenters, pmdeAll, pmdeMem, pmdeLines, 83.6, 2.2) },
  { col: 2, row: 1, xlim: [-5.086, -3.349], ylim: [0.936, 2.176], xticks: [-5, -4.5, -4, -3.5], xdec: 1, yticks: seq(1, 2, 0.2), ydec: 1,
    xlabel: MU_A, xlabelGap: 50, ylabel: MU_D, ylabelX: 1038, datasets: starLayers(palePmRA, palePmDE, memPmRA, memPmDE) },
  { col: 3, row: 1, xlim: [-16.52, 16.54], ylim: [-16.5, 16.53], xticks: [-10, 0, 10], xdec: 0, yticks: seq(-15, 15, 5),
    xlabel: MU_A, xlabelGap: 50, ylabel: MU_D, ylabelX: 1507, datasets: [
      shape(fieldOuterX, fieldOuterY, stipple(null, GRAY(0.55), 40, 1.1)),
      shape(fieldMidX, fieldMidY, stipple(GRAY(0.32), GRAY(0.7), 50, 1.3), stipple(GRAY(0.14), GRAY(0.6), 44, 1.2), 28),
      shape(fieldInnerX, fieldInnerY, stipple(GRAY(0.62), GRAY(0.9), 50, 1.3), stipple(GRAY(0.3), GRAY(0.7), 50, 1.3), 24),
      shape(fieldCoreX, fieldCoreY, '#808080', GRAY(0.6), 14),
      dots(fieldSparseX, fieldSparseY, GRAY(0.55), 1.3)
    ].concat(starLayers(palePmRA, palePmDE, memPmRA, memPmDE)) },

  { col: 0, row: 2, xlim: [105.446, 107.23], ylim: [-12.42, -10.345], reverse: true, xticks: RA_Q_TICKS, xdec: 1, yticks: NEG_DEC, ydec: 1, gain: 9,
    xlabel: 'RA (deg)', xlabelGap: 44, ylabel: 'Dec (deg)', ylabelX: 43, datasets: [
      arrows(paleRA, paleDE, palePmRA, palePmDE, TEAL(0.4)), arrows(memRA, memDE, memPmRA, memPmDE, TEAL(0.7))
    ] },
  { col: 1, row: 2, xlim: [105.446, 107.235], ylim: [-12.42, -10.345], reverse: true, xticks: RA_Q_TICKS, xdec: 1, yticks: NEG_DEC, ydec: 1, gain: 18,
    xlabel: 'RA (deg)', xlabelGap: 44, ylabel: 'Dec (deg)', ylabelX: 524, datasets: [
      arrows(paleRA, paleDE, palePmRA, palePmDE, TEAL(0.4)), arrows(memRA, memDE, memPmRA, memPmDE, TEAL(0.7))
    ] },
  { col: 2, row: 2, xlim: [0, 4.94], ylim: [0, 157.5], xticks: [0, 1, 2, 3, 4], xdec: 0, yticks: seq(0, 140, 20),
    xlabel: 'A<sub><i>V</i></sub> (mag)', xlabelGap: 44, ylabel: N_STARS, ylabelX: 1031, datasets: hist(avCenters, avAll, avMem, avLines, 157.5, 1.6) },
  { col: 3, row: 2, xlim: [0, 100], ylim: [0, 251], xticks: [0, 25, 50, 75, 100], xdec: 0, yticks: seq(0, 250, 50),
    xlabel: 'Membership Probability (%)', xlabelGap: 44, ylabel: N_STARS, ylabelX: 1512, datasets: hist(probCenters, probAll, probMem) },

  { col: 0, row: 3, xlim: [0.481, 1.176], ylim: [0, 133.2], xticks: [0.6, 0.8, 1], xdec: 1, yticks: seq(0, 120, 20),
    xlabel: '<i>ϖ</i> (mas)', xlabelGap: 47, ylabel: N_STARS, ylabelX: 70, datasets: hist(plxCenters, plxAll, plxMem, plxLines, 133.2, 1.6) },
  { col: 1, row: 3, xlim: [791, 1787], ylim: [0, 147.2], xticks: seq(800, 1600, 200), xdec: 0, yticks: seq(0, 140, 20),
    xlabel: 'Distance 1/<i>ϖ</i>(pc)', xlabelGap: 47, ylabel: N_STARS, ylabelX: 552, datasets: hist(distCenters, distAll, distMem, distLines, 147.2, 1.6) },
  { col: 2, row: 3, xlim: [812, 1809], ylim: [0, 137.6], xticks: seq(1000, 1800, 200), xdec: 0, yticks: seq(0, 120, 20),
    xlabel: 'Distance<sub><i>BJ</i></sub> (pc)', xlabelGap: 47, ylabel: N_STARS, ylabelX: 1031, datasets: hist(bjCenters, bjAll, bjMem, bjLines, 137.6, 1.6) },
  { col: 3, row: 3, xlim: [231, 2887], ylim: [236, 2883], xticks: [1000, 2000], xdec: 0, yticks: seq(500, 2500, 500),
    xlabel: 'Distance - 1/<i>ϖ</i> (pc)', xlabelGap: 47, ylabel: 'Distance - Bayler-Jones (pc)', ylabelX: 1496, datasets: [
      dots(dist1, distBJ, TEAL(0.4), 4), dots(dist1, distBJ, TEAL(0.7), 4),
      line(oneToOneX, oneToOneY, { borderDash: [6, 3], borderWidth: 1.4 })
    ] }
].forEach(drawPanel);

/*
    LEYENDAS
*/
const addLegend = (x, y, w, h, inner) => {
  const el = document.createElement('div');
  el.className = 'legend';
  el.style.cssText = `left:${x}px;top:${y}px;width:${w}px;height:${h}px`;
  el.innerHTML = inner;
  page.appendChild(el);
};
const dot = (x, y, a) => `<div style="left:${x - 3.8}px;top:${y - 3.8}px;width:7.6px;height:7.6px;border-radius:50%;background:${TEAL(a)}"></div>`;
const swatch = (x, y, w, h) => `<div style="left:${x}px;top:${y}px;width:${w}px;height:${h}px;background:${TEAL(0.6)}"></div>`;
const text = (x, y, s) => `<span style="left:${x}px;top:${y}px">${s}</span>`;

addLegend(1744, 367, 185, 69, dot(31, 20, 0.5) + text(71, 20, 'all') + dot(31, 51, 0.75) + text(72, 51, '<span style="position:static;transform:none;word-spacing:3px">P ≥ 50%</span>'));
addLegend(373, 1367, 115, 39, swatch(8, 9, 44, 16) + text(71, 18, 'pm'));
addLegend(865, 1363, 103, 43, swatch(8, 12, 44, 15) + text(71, 20, 'V<sub><i>t</i></sub>'));
</script>
</body>
</html>
